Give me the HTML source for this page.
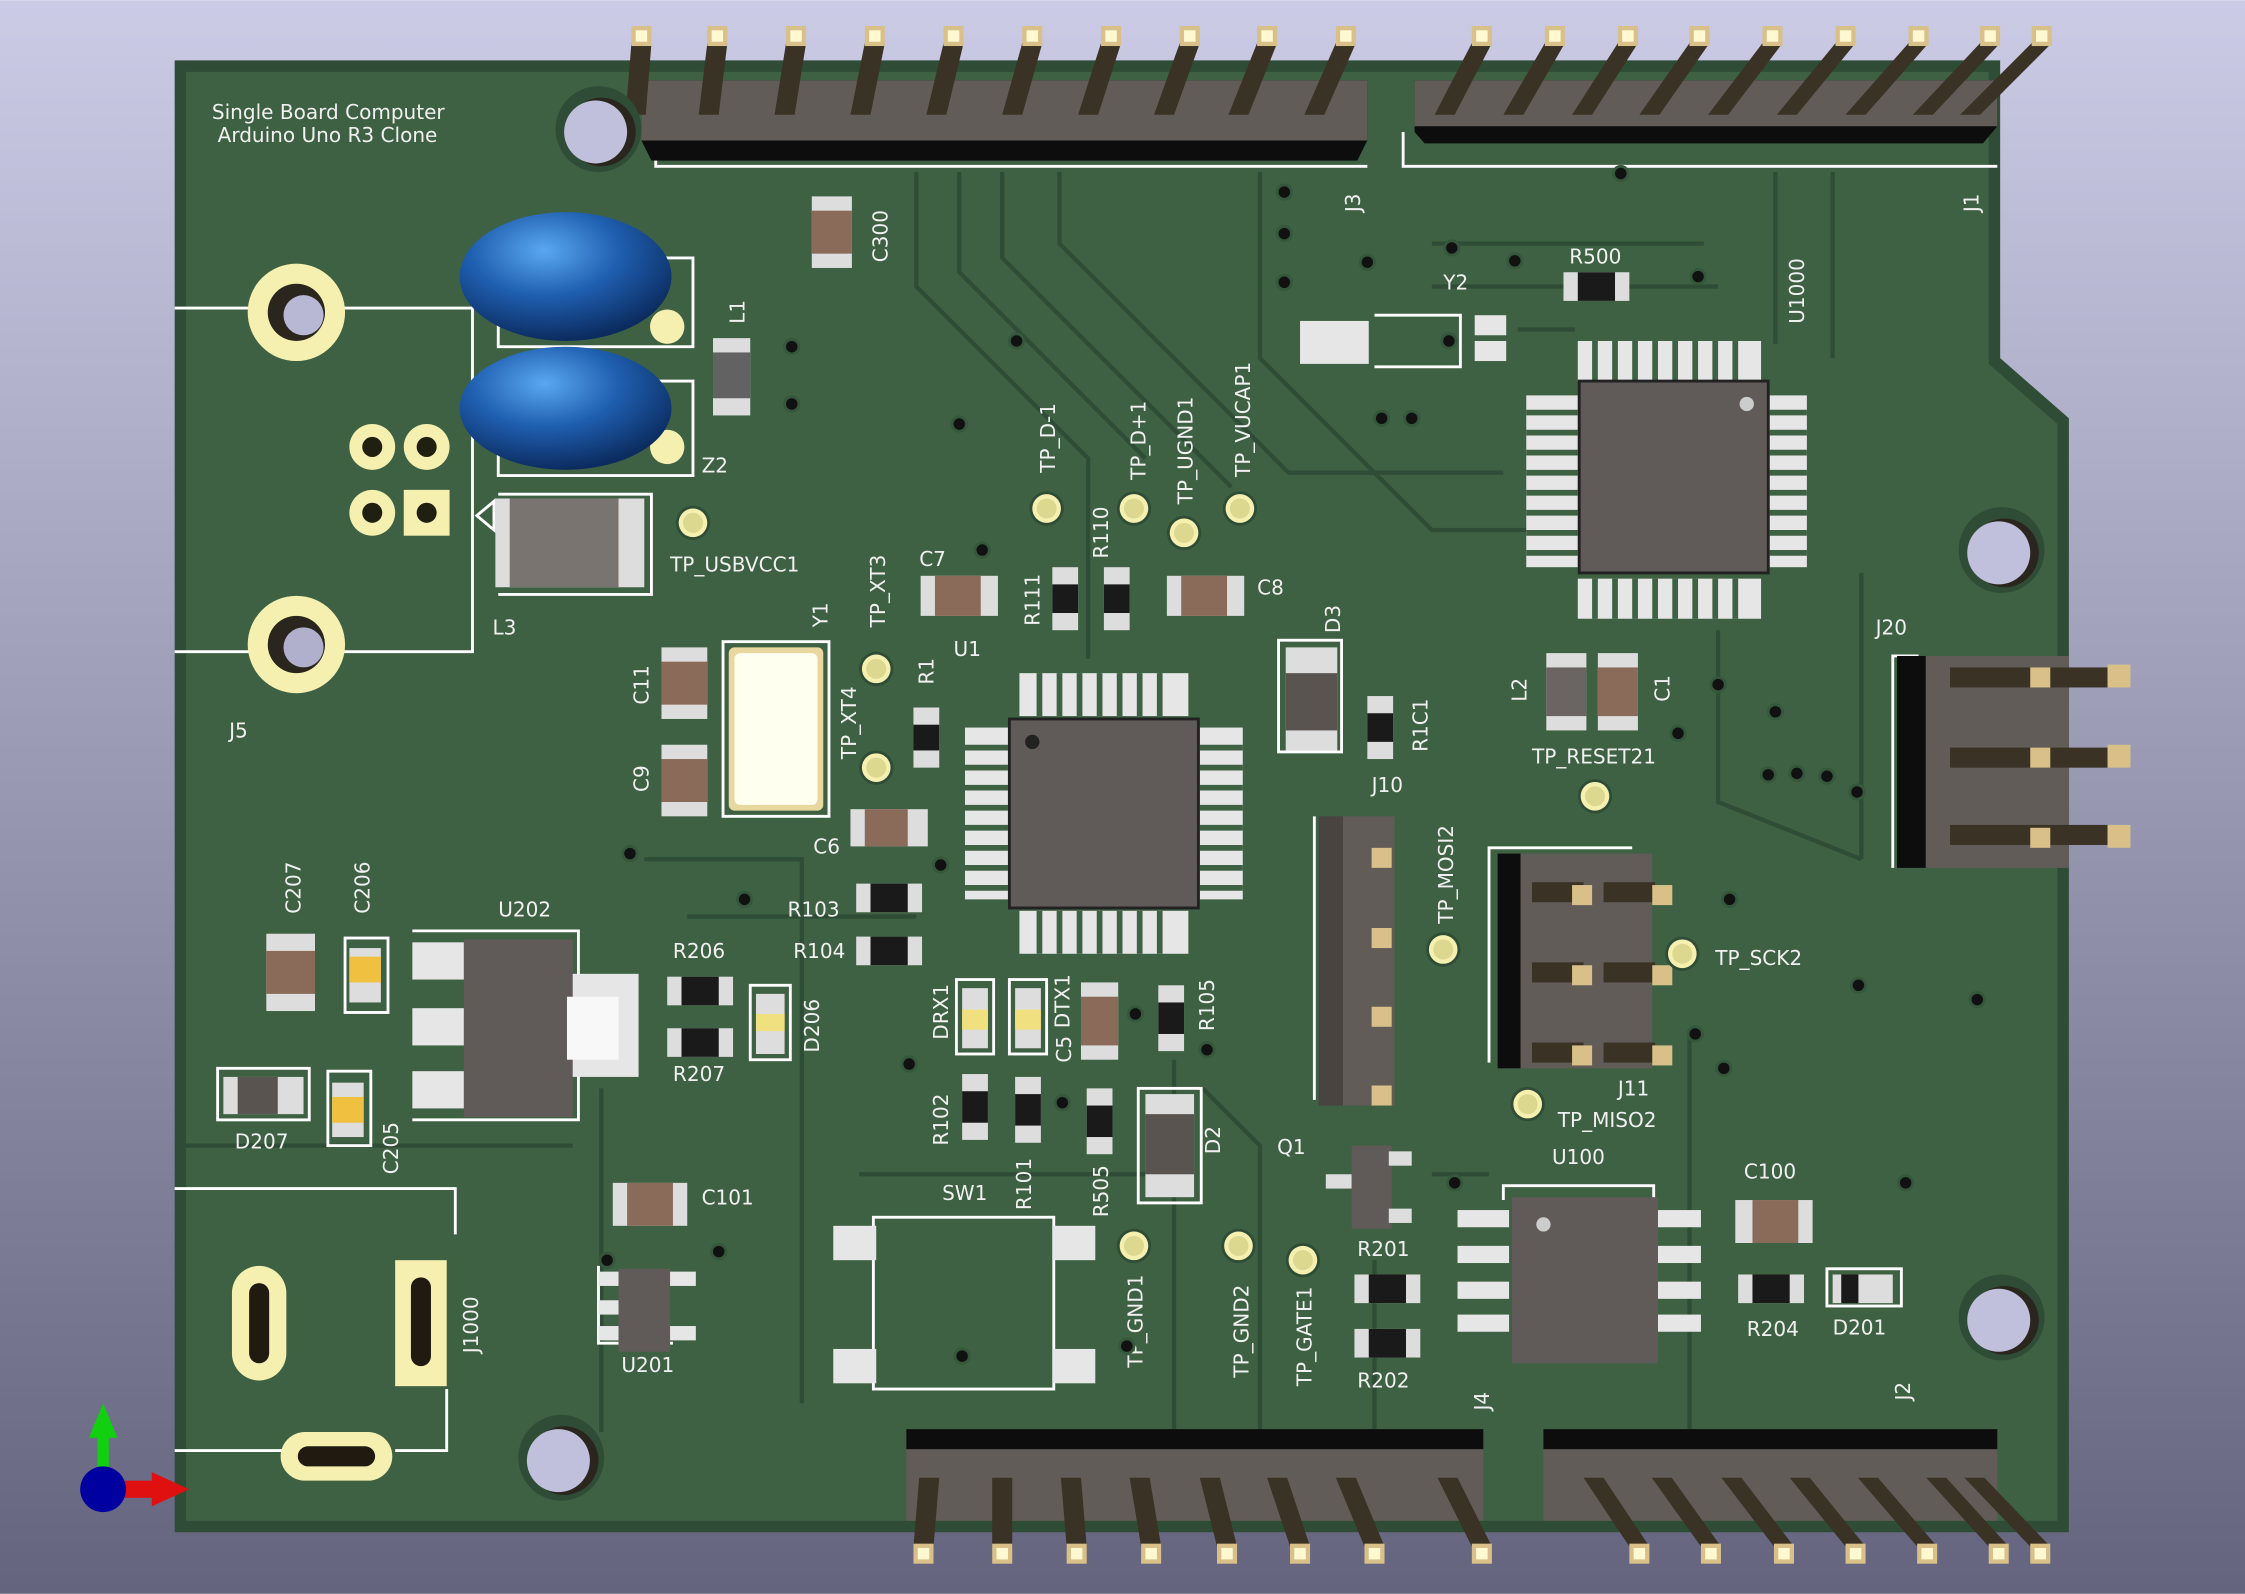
<!DOCTYPE html>
<html><head><meta charset="utf-8"><style>
html,body{margin:0;padding:0;width:2245px;height:1594px;overflow:hidden}
svg{display:block}
text{font-family:"DejaVu Sans","Liberation Sans",sans-serif;fill:#f0f0f0;font-size:14px}
</style></head><body>
<svg id="s" width="2245" height="1594" viewBox="0 0 1568 1113" xmlns="http://www.w3.org/2000/svg">
<defs>
<linearGradient id="bg" x1="0" y1="0" x2="0" y2="1"><stop offset="0" stop-color="#cbcbe6"/><stop offset="1" stop-color="#64647e"/></linearGradient>
<radialGradient id="cap" cx="0.4" cy="0.3" r="0.7"><stop offset="0" stop-color="#5aa8f0"/><stop offset="0.5" stop-color="#1f5fb0"/><stop offset="1" stop-color="#0c2c60"/></radialGradient>
<g id="tp"><circle r="12" fill="#2f4d36"/><circle r="10" fill="#f5f0b0"/><circle r="7" fill="#dcd890"/></g>
<g id="via"><circle r="6" fill="#35573b"/><circle r="4" fill="#111"/></g>
</defs>
<rect width="1568" height="1113" fill="url(#bg)"/>
<!-- board -->
<polygon points="122,42 1397,42 1397,250 1445,292 1445,1070 122,1070" fill="#2f4d36"/>
<polygon points="130,50 1389,50 1389,254 1437,296 1437,1062 130,1062" fill="#3e6143"/>
<!-- traces -->
<g stroke="#2f4d36" stroke-width="3" fill="none">
<path d="M640,120 L640,200 L760,320 L760,460"/><path d="M670,120 L670,190 L800,320"/><path d="M700,120 L700,180 L860,340"/>
<path d="M740,120 L740,170 L900,330 L1050,330"/><path d="M880,120 L880,250 L1000,370 L1070,370"/>
<path d="M1000,170 L1190,170"/><path d="M1000,200 L1200,200"/><path d="M1060,230 L1100,230"/>
<path d="M1240,120 L1240,240"/><path d="M1280,120 L1280,250"/>
<path d="M1300,400 L1300,600"/><path d="M1200,440 L1200,560 L1300,600"/>
<path d="M420,760 L420,1000"/><path d="M450,600 L560,600 L560,980"/><path d="M820,740 L820,1000"/><path d="M840,760 L880,800 L880,1000"/>
<path d="M600,820 L800,820"/><path d="M480,640 L640,640"/><path d="M130,800 L400,800"/>
<path d="M960,880 L960,1000"/><path d="M1000,820 L1040,820"/><path d="M1180,720 L1180,1000"/>
</g>
<text x="148" y="83">Single Board Computer</text>
<text x="152" y="99">Arduino Uno R3 Clone</text>
<!-- top headers -->
<polygon points="448,56 955,56 955,98 948,112 455,112 448,98" fill="#0d0d0d"/>
<rect x="448" y="56" width="507" height="42" fill="#625c58"/>
<polyline points="458,112 458,116 955,116" stroke="#fff" stroke-width="2" fill="none"/>
<polygon points="988,56 1395,56 1395,88 1385,100 995,100 988,92" fill="#0d0d0d"/>
<rect x="988" y="56" width="407" height="32" fill="#625c58"/>
<polyline points="980,92 980,116 1395,116" stroke="#fff" stroke-width="2" fill="none"/>
<g id="pins"></g>
<text x="950" y="148" transform="rotate(-90 950 148)" font-size="13">J3</text>
<text x="1382" y="148" transform="rotate(-90 1382 148)" font-size="13">J1</text>
<!-- bottom headers -->
<rect x="633" y="998" width="403" height="64" fill="#625c58"/><rect x="633" y="998" width="403" height="14" fill="#0d0d0d"/>
<rect x="1078" y="998" width="317" height="64" fill="#625c58"/><rect x="1078" y="998" width="317" height="14" fill="#0d0d0d"/>
<g id="pinsb"></g>
<text x="1040" y="985" transform="rotate(-90 1040 985)" font-size="13">J4</text>
<text x="1334" y="978" transform="rotate(-90 1334 978)" font-size="13">J2</text>
<!-- mounting holes -->
<g fill="#2f4d36"><circle cx="418" cy="90" r="30"/><circle cx="1398" cy="384" r="30"/><circle cx="1398" cy="920" r="30"/><circle cx="392" cy="1018" r="30"/></g>
<g fill="#2a261e"><circle cx="420" cy="92" r="24"/><circle cx="1400" cy="386" r="24"/><circle cx="1400" cy="922" r="24"/><circle cx="394" cy="1020" r="24"/></g>
<g fill="#c0c0dc"><circle cx="416" cy="92" r="22"/><circle cx="1396" cy="386" r="22"/><circle cx="1396" cy="922" r="22"/><circle cx="390" cy="1020" r="22"/></g>
<!-- J5 -->
<polyline points="122,215 330,215 330,455 122,455" stroke="#fff" stroke-width="2" fill="none"/>
<circle cx="207" cy="218" r="34" fill="#f5f0b0"/><circle cx="207" cy="218" r="20" fill="#2a261e"/><circle cx="212" cy="220" r="14" fill="#b8b8d4"/>
<circle cx="207" cy="450" r="34" fill="#f5f0b0"/><circle cx="207" cy="450" r="20" fill="#2a261e"/><circle cx="212" cy="452" r="14" fill="#b0b0cc"/>
<g fill="#f5f0b0"><circle cx="260" cy="312" r="16"/><circle cx="298" cy="312" r="16"/><circle cx="260" cy="358" r="16"/><rect x="282" y="342" width="32" height="32"/></g>
<g fill="#202010"><circle cx="260" cy="312" r="7"/><circle cx="298" cy="312" r="7"/><circle cx="260" cy="358" r="7"/><circle cx="298" cy="358" r="7"/></g>
<text x="160" y="515">J5</text>
<rect x="348" y="180" width="136" height="62" fill="none" stroke="#fff" stroke-width="2"/>
<rect x="348" y="266" width="136" height="66" fill="none" stroke="#fff" stroke-width="2"/>
<circle cx="466" cy="228" r="12" fill="#f5f0b0"/><circle cx="466" cy="312" r="12" fill="#f5f0b0"/>
<ellipse cx="395" cy="193" rx="74" ry="45" fill="url(#cap)"/>
<ellipse cx="395" cy="285" rx="74" ry="43" fill="url(#cap)"/>
<text x="490" y="330">Z2</text>
<rect x="498" y="236" width="26" height="54" fill="#ddd"/><rect x="498" y="246" width="26" height="32" fill="#626262"/>
<text x="520" y="226" transform="rotate(-90 520 226)">L1</text>
<rect x="567" y="137" width="28" height="50" fill="#ddd"/><rect x="567" y="147" width="28" height="30" fill="#8a6a58"/>
<text x="620" y="183" transform="rotate(-90 620 183)">C300</text>
<polyline points="348,345 455,345 455,415 348,415" stroke="#fff" stroke-width="2" fill="none"/>
<polygon points="333,360 345,350 345,370" fill="none" stroke="#fff" stroke-width="2"/>
<rect x="346" y="348" width="104" height="62" fill="#ddd"/><rect x="356" y="348" width="76" height="62" fill="#7a7470"/>
<text x="344" y="443">L3</text>
<use href="#tp" x="484" y="365"/><text x="468" y="399">TP_USBVCC1</text>
<rect x="462" y="452" width="32" height="50" fill="#ddd"/><rect x="462" y="462" width="32" height="30" fill="#8a6a58"/>
<rect x="462" y="520" width="32" height="50" fill="#ddd"/><rect x="462" y="530" width="32" height="30" fill="#8a6a58"/>
<text x="453" y="492" transform="rotate(-90 453 492)">C11</text>
<text x="453" y="553" transform="rotate(-90 453 553)">C9</text>
<rect x="505" y="448" width="74" height="122" fill="none" stroke="#fff" stroke-width="2"/>
<rect x="509" y="452" width="66" height="114" rx="4" fill="#e8d8a0"/><rect x="513" y="456" width="58" height="106" rx="4" fill="#fffff0"/>
<text x="578" y="438" transform="rotate(-90 578 438)">Y1</text>
<use href="#tp" x="612" y="467"/><use href="#tp" x="612" y="536"/>
<text x="618" y="438" transform="rotate(-90 618 438)">TP_XT3</text>
<text x="598" y="530" transform="rotate(-90 598 530)">TP_XT4</text>
<rect x="594" y="565" width="54" height="26" fill="#ddd"/><rect x="604" y="565" width="30" height="26" fill="#8a6a58"/>
<text x="568" y="596">C6</text>
<rect x="638" y="494" width="18" height="42" fill="#ddd"/><rect x="638" y="506" width="18" height="18" fill="#1a1a1a"/>
<text x="652" y="478" transform="rotate(-90 652 478)">R1</text>
<rect x="643" y="402" width="54" height="28" fill="#ddd"/><rect x="653" y="402" width="32" height="28" fill="#8a6a58"/>
<text x="642" y="395">C7</text><text x="666" y="458">U1</text>
<g fill="#e6e6e6">
<rect x="712" y="470" width="118" height="30"/><rect x="712" y="636" width="118" height="30"/>
<rect x="674" y="508" width="30" height="120"/><rect x="838" y="508" width="30" height="120"/>
</g>
<g stroke="#3e6143" stroke-width="4">
<path d="M726,470V500M740,470V500M754,470V500M768,470V500M782,470V500M796,470V500M810,470V500"/>
<path d="M726,636V666M740,636V666M754,636V666M768,636V666M782,636V666M796,636V666M810,636V666"/>
<path d="M674,522H704M674,536H704M674,550H704M674,564H704M674,578H704M674,592H704M674,606H704M674,620H704"/>
<path d="M838,522H868M838,536H868M838,550H868M838,564H868M838,578H868M838,592H868M838,606H868M838,620H868"/>
</g>
<rect x="705" y="502" width="132" height="132" fill="#605a58" stroke="#222" stroke-width="2"/><circle cx="721" cy="518" r="5" fill="#222"/>
<use href="#tp" x="731" y="355"/><use href="#tp" x="792" y="355"/><use href="#tp" x="827" y="372"/><use href="#tp" x="866" y="355"/>
<text x="737" y="330" transform="rotate(-90 737 330)">TP_D-1</text>
<text x="800" y="335" transform="rotate(-90 800 335)">TP_D+1</text>
<text x="833" y="352" transform="rotate(-90 833 352)">TP_UGND1</text>
<text x="873" y="333" transform="rotate(-90 873 333)">TP_VUCAP1</text>
<rect x="735" y="396" width="18" height="44" fill="#ddd"/><rect x="735" y="408" width="18" height="20" fill="#1a1a1a"/>
<rect x="771" y="396" width="18" height="44" fill="#ddd"/><rect x="771" y="408" width="18" height="20" fill="#1a1a1a"/>
<text x="726" y="437" transform="rotate(-90 726 437)">R111</text>
<text x="774" y="390" transform="rotate(-90 774 390)">R110</text>
<rect x="815" y="402" width="54" height="28" fill="#ddd"/><rect x="825" y="402" width="32" height="28" fill="#8a6a58"/>
<text x="878" y="415">C8</text>
<rect x="893" y="447" width="44" height="78" fill="none" stroke="#fff" stroke-width="2"/>
<rect x="898" y="452" width="36" height="72" fill="#ddd"/><rect x="898" y="470" width="36" height="40" fill="#5a5450"/>
<text x="936" y="442" transform="rotate(-90 936 442)">D3</text>
<rect x="955" y="486" width="18" height="44" fill="#ddd"/><rect x="955" y="498" width="18" height="20" fill="#1a1a1a"/>
<text x="997" y="525" transform="rotate(-90 997 525)">R1C1</text>
<rect x="908" y="224" width="48" height="30" fill="#e6e6e6"/>
<polyline points="960,220 1020,220 1020,256 960,256" stroke="#fff" stroke-width="2" fill="none"/>
<rect x="1030" y="220" width="22" height="14" fill="#e6e6e6"/><rect x="1030" y="238" width="22" height="14" fill="#e6e6e6"/>
<text x="1008" y="202">Y2</text>
<rect x="1092" y="190" width="46" height="20" fill="#ddd"/><rect x="1102" y="190" width="26" height="20" fill="#1a1a1a"/>
<text x="1096" y="184">R500</text>
<g fill="#e6e6e6"><rect x="1102" y="238" width="128" height="28"/><rect x="1102" y="404" width="128" height="28"/><rect x="1066" y="276" width="36" height="120"/><rect x="1236" y="276" width="26" height="120"/></g>
<g stroke="#3e6143" stroke-width="4">
<path d="M1114,238V266M1128,238V266M1142,238V266M1156,238V266M1170,238V266M1184,238V266M1198,238V266M1212,238V266"/>
<path d="M1114,404V432M1128,404V432M1142,404V432M1156,404V432M1170,404V432M1184,404V432M1198,404V432M1212,404V432"/>
<path d="M1066,288H1102M1066,302H1102M1066,316H1102M1066,330H1102M1066,344H1102M1066,358H1102M1066,372H1102M1066,386H1102"/>
<path d="M1236,288H1262M1236,302H1262M1236,316H1262M1236,330H1262M1236,344H1262M1236,358H1262M1236,372H1262M1236,386H1262"/>
</g>
<rect x="1103" y="266" width="132" height="134" fill="#605a58" stroke="#222" stroke-width="2"/><circle cx="1220" cy="282" r="5" fill="#ccc"/>
<text x="1260" y="226" transform="rotate(-90 1260 226)">U1000</text>
<rect x="1080" y="456" width="28" height="54" fill="#ddd"/><rect x="1080" y="466" width="28" height="34" fill="#6a6462"/>
<rect x="1116" y="456" width="28" height="54" fill="#ddd"/><rect x="1116" y="466" width="28" height="34" fill="#8a6a58"/>
<text x="1066" y="490" transform="rotate(-90 1066 490)">L2</text>
<text x="1166" y="490" transform="rotate(-90 1166 490)">C1</text>
<text x="1070" y="533">TP_RESET21</text><use href="#tp" x="1114" y="556"/>
<polyline points="1322,606 1322,458 1340,458" stroke="#fff" stroke-width="2" fill="none"/>
<rect x="1325" y="458" width="22" height="148" fill="#0d0d0d"/><rect x="1345" y="458" width="100" height="148" fill="#625c58"/>
<g fill="#3a3224"><rect x="1362" y="466" width="110" height="14"/><rect x="1362" y="522" width="110" height="14"/><rect x="1362" y="576" width="110" height="14"/></g>
<g fill="#d8c088"><rect x="1472" y="464" width="16" height="16"/><rect x="1472" y="520" width="16" height="16"/><rect x="1472" y="576" width="16" height="16"/><rect x="1418" y="466" width="14" height="14"/><rect x="1418" y="522" width="14" height="14"/><rect x="1418" y="578" width="14" height="14"/></g>
<text x="1310" y="443">J20</text>
<polyline points="918,570 918,768" stroke="#fff" stroke-width="2"/>
<rect x="921" y="570" width="52" height="202" fill="#4a4440"/><rect x="938" y="570" width="36" height="202" fill="#625c58"/>
<g fill="#d8c088"><rect x="958" y="592" width="14" height="14"/><rect x="958" y="648" width="14" height="14"/><rect x="958" y="703" width="14" height="14"/><rect x="958" y="758" width="14" height="14"/></g>
<text x="958" y="553">J10</text>
<use href="#tp" x="1008" y="663"/><text x="1015" y="645" transform="rotate(-90 1015 645)">TP_MOSI2</text>
<polyline points="1040,742 1040,592 1140,592" stroke="#fff" stroke-width="2" fill="none"/>
<rect x="1046" y="596" width="108" height="150" fill="#625c58"/><rect x="1046" y="596" width="16" height="150" fill="#0d0d0d"/>
<g fill="#3a3224"><rect x="1070" y="616" width="36" height="14"/><rect x="1120" y="616" width="36" height="14"/><rect x="1070" y="672" width="36" height="14"/><rect x="1120" y="672" width="36" height="14"/><rect x="1070" y="728" width="36" height="14"/><rect x="1120" y="728" width="36" height="14"/></g>
<g fill="#d8c088"><rect x="1098" y="618" width="14" height="14"/><rect x="1154" y="618" width="14" height="14"/><rect x="1098" y="674" width="14" height="14"/><rect x="1154" y="674" width="14" height="14"/><rect x="1098" y="730" width="14" height="14"/><rect x="1154" y="730" width="14" height="14"/></g>
<use href="#tp" x="1175" y="666"/><text x="1198" y="674">TP_SCK2</text>
<use href="#tp" x="1067" y="771"/><text x="1130" y="765">J11</text><text x="1088" y="787">TP_MISO2</text>
<text x="1084" y="813">U100</text>
<polyline points="1050,838 1050,828 1155,828 1155,838" stroke="#fff" stroke-width="2" fill="none"/>
<g fill="#e6e6e6"><rect x="1018" y="845" width="36" height="12"/><rect x="1018" y="870" width="36" height="12"/><rect x="1018" y="895" width="36" height="12"/><rect x="1018" y="918" width="36" height="12"/>
<rect x="1156" y="845" width="32" height="12"/><rect x="1156" y="870" width="32" height="12"/><rect x="1156" y="895" width="32" height="12"/><rect x="1156" y="918" width="32" height="12"/></g>
<rect x="1056" y="836" width="102" height="116" fill="#605a58"/><circle cx="1078" cy="855" r="5" fill="#ccc"/>
<text x="1218" y="823">C100</text>
<rect x="1212" y="838" width="54" height="30" fill="#ddd"/><rect x="1224" y="838" width="32" height="30" fill="#8a6a58"/>
<rect x="1214" y="890" width="46" height="20" fill="#ddd"/><rect x="1224" y="890" width="26" height="20" fill="#1a1a1a"/>
<text x="1220" y="933">R204</text>
<rect x="1276" y="886" width="52" height="26" fill="none" stroke="#fff" stroke-width="2"/>
<rect x="1280" y="890" width="42" height="20" fill="#ddd"/><rect x="1286" y="890" width="12" height="20" fill="#1a1a1a"/>
<text x="1280" y="932">D201</text>
<text x="892" y="806">Q1</text>
<rect x="944" y="800" width="28" height="58" fill="#605a58"/><rect x="926" y="820" width="18" height="10" fill="#ddd"/><rect x="970" y="804" width="16" height="10" fill="#ddd"/><rect x="970" y="844" width="16" height="10" fill="#ddd"/>
<text x="948" y="877">R201</text>
<rect x="946" y="890" width="46" height="20" fill="#ddd"/><rect x="956" y="890" width="26" height="20" fill="#1a1a1a"/>
<rect x="946" y="928" width="46" height="20" fill="#ddd"/><rect x="956" y="928" width="26" height="20" fill="#1a1a1a"/>
<text x="948" y="969">R202</text>
<use href="#tp" x="792" y="870"/><use href="#tp" x="865" y="870"/><use href="#tp" x="910" y="880"/>
<text x="798" y="955" transform="rotate(-90 798 955)">TP_GND1</text>
<text x="872" y="962" transform="rotate(-90 872 962)">TP_GND2</text>
<text x="916" y="968" transform="rotate(-90 916 968)">TP_GATE1</text>
<rect x="795" y="760" width="44" height="80" fill="none" stroke="#fff" stroke-width="2"/>
<rect x="800" y="764" width="34" height="72" fill="#ddd"/><rect x="800" y="778" width="34" height="42" fill="#5a5450"/>
<text x="852" y="806" transform="rotate(-90 852 806)">D2</text>
<rect x="809" y="688" width="18" height="46" fill="#ddd"/><rect x="809" y="700" width="18" height="22" fill="#1a1a1a"/>
<text x="848" y="720" transform="rotate(-90 848 720)">R105</text>
<rect x="755" y="686" width="26" height="54" fill="#ddd"/><rect x="755" y="696" width="26" height="34" fill="#8a6a58"/>
<text x="748" y="742" transform="rotate(-90 748 742)">C5</text>
<rect x="705" y="684" width="26" height="52" fill="none" stroke="#fff" stroke-width="2"/><rect x="709" y="690" width="18" height="42" fill="#ddd"/><rect x="709" y="705" width="18" height="14" fill="#f0e080"/>
<text x="747" y="718" transform="rotate(-90 747 718)">DTX1</text>
<rect x="668" y="684" width="26" height="52" fill="none" stroke="#fff" stroke-width="2"/><rect x="672" y="690" width="18" height="42" fill="#ddd"/><rect x="672" y="705" width="18" height="14" fill="#f0e080"/>
<text x="662" y="726" transform="rotate(-90 662 726)">DRX1</text>
<rect x="672" y="750" width="18" height="46" fill="#ddd"/><rect x="672" y="762" width="18" height="22" fill="#1a1a1a"/>
<rect x="709" y="752" width="18" height="46" fill="#ddd"/><rect x="709" y="764" width="18" height="22" fill="#1a1a1a"/>
<rect x="759" y="760" width="18" height="46" fill="#ddd"/><rect x="759" y="772" width="18" height="22" fill="#1a1a1a"/>
<text x="662" y="800" transform="rotate(-90 662 800)">R102</text>
<text x="720" y="845" transform="rotate(-90 720 845)">R101</text>
<text x="774" y="850" transform="rotate(-90 774 850)">R505</text>
<rect x="598" y="617" width="46" height="20" fill="#ddd"/><rect x="608" y="617" width="26" height="20" fill="#1a1a1a"/>
<rect x="598" y="654" width="46" height="20" fill="#ddd"/><rect x="608" y="654" width="26" height="20" fill="#1a1a1a"/>
<text x="550" y="640">R103</text><text x="554" y="669">R104</text>
<text x="658" y="838">SW1</text>
<rect x="610" y="850" width="126" height="120" fill="none" stroke="#fff" stroke-width="2"/>
<g fill="#e6e6e6"><rect x="582" y="856" width="30" height="24"/><rect x="735" y="856" width="30" height="24"/><rect x="582" y="942" width="30" height="24"/><rect x="735" y="942" width="30" height="24"/></g>
<text x="470" y="669">R206</text>
<rect x="466" y="682" width="46" height="20" fill="#ddd"/><rect x="476" y="682" width="26" height="20" fill="#1a1a1a"/>
<rect x="466" y="718" width="46" height="20" fill="#ddd"/><rect x="476" y="718" width="26" height="20" fill="#1a1a1a"/>
<text x="470" y="755">R207</text>
<rect x="524" y="688" width="28" height="52" fill="none" stroke="#fff" stroke-width="2"/><rect x="528" y="694" width="20" height="42" fill="#ddd"/><rect x="528" y="708" width="20" height="12" fill="#f0e080"/>
<text x="572" y="735" transform="rotate(-90 572 735)">D206</text>
<text x="348" y="640">U202</text>
<polyline points="288,650 404,650 404,782 288,782" stroke="#fff" stroke-width="2" fill="none"/>
<g fill="#e6e6e6"><rect x="288" y="658" width="36" height="26"/><rect x="288" y="704" width="36" height="26"/><rect x="288" y="748" width="36" height="26"/><rect x="396" y="680" width="50" height="72"/></g>
<rect x="324" y="656" width="76" height="124" fill="#605a58"/>
<rect x="396" y="696" width="36" height="44" fill="#f8f8f8"/>
<text x="210" y="638" transform="rotate(-90 210 638)">C207</text>
<text x="258" y="638" transform="rotate(-90 258 638)">C206</text>
<rect x="186" y="652" width="34" height="54" fill="#ddd"/><rect x="186" y="664" width="34" height="30" fill="#8a6a58"/>
<rect x="241" y="655" width="30" height="52" fill="none" stroke="#fff" stroke-width="2"/><rect x="244" y="662" width="22" height="38" fill="#ddd"/><rect x="244" y="668" width="22" height="18" fill="#f0c040"/>
<rect x="152" y="746" width="64" height="36" fill="none" stroke="#fff" stroke-width="2"/><rect x="156" y="752" width="56" height="26" fill="#ddd"/><rect x="166" y="752" width="28" height="26" fill="#5a5450"/>
<text x="164" y="802">D207</text>
<rect x="229" y="748" width="30" height="52" fill="none" stroke="#fff" stroke-width="2"/><rect x="232" y="756" width="22" height="38" fill="#ddd"/><rect x="232" y="766" width="22" height="18" fill="#f0c040"/>
<text x="278" y="820" transform="rotate(-90 278 820)">C205</text>
<rect x="428" y="826" width="52" height="30" fill="#ddd"/><rect x="438" y="826" width="32" height="30" fill="#8a6a58"/>
<text x="490" y="841">C101</text>
<polyline points="418,884 418,938 470,938" stroke="#fff" stroke-width="2" fill="none"/>
<g fill="#e6e6e6"><rect x="418" y="888" width="16" height="10"/><rect x="418" y="908" width="16" height="10"/><rect x="418" y="926" width="16" height="10"/><rect x="466" y="888" width="20" height="10"/><rect x="466" y="926" width="20" height="10"/></g>
<rect x="432" y="886" width="36" height="58" fill="#605a58"/>
<text x="434" y="958">U201</text>
<polyline points="122,830 318,830 318,862" stroke="#fff" stroke-width="2" fill="none"/>
<polyline points="122,1013 198,1013" stroke="#fff" stroke-width="2"/><polyline points="276,1013 312,1013 312,970" stroke="#fff" stroke-width="2" fill="none"/>
<rect x="162" y="884" width="38" height="80" rx="19" fill="#f5f0b0"/><rect x="174" y="896" width="14" height="56" rx="7" fill="#201a10"/>
<rect x="276" y="880" width="36" height="88" fill="#f5f0b0"/><rect x="287" y="892" width="14" height="62" rx="7" fill="#201a10"/>
<rect x="196" y="1000" width="78" height="34" rx="17" fill="#f5f0b0"/><rect x="208" y="1010" width="54" height="14" rx="7" fill="#201a10"/>
<text x="334" y="945" transform="rotate(-90 334 945)">J1000</text>
<g>
<use href="#via" x="553" y="242"/><use href="#via" x="553" y="282"/><use href="#via" x="710" y="238"/><use href="#via" x="670" y="296"/><use href="#via" x="686" y="384"/>
<use href="#via" x="897" y="134"/><use href="#via" x="897" y="163"/><use href="#via" x="897" y="197"/><use href="#via" x="955" y="183"/><use href="#via" x="1014" y="173"/><use href="#via" x="1058" y="182"/><use href="#via" x="1132" y="121"/><use href="#via" x="1186" y="193"/>
<use href="#via" x="965" y="292"/><use href="#via" x="986" y="292"/><use href="#via" x="1200" y="478"/><use href="#via" x="1240" y="497"/><use href="#via" x="1172" y="512"/><use href="#via" x="1235" y="541"/><use href="#via" x="1255" y="540"/><use href="#via" x="1276" y="542"/><use href="#via" x="1297" y="553"/>
<use href="#via" x="440" y="596"/><use href="#via" x="520" y="628"/><use href="#via" x="657" y="604"/><use href="#via" x="635" y="743"/><use href="#via" x="793" y="708"/><use href="#via" x="843" y="733"/><use href="#via" x="742" y="770"/>
<use href="#via" x="1208" y="628"/><use href="#via" x="1298" y="688"/><use href="#via" x="1381" y="698"/><use href="#via" x="1204" y="746"/><use href="#via" x="1184" y="722"/><use href="#via" x="1016" y="826"/><use href="#via" x="1331" y="826"/>
<use href="#via" x="502" y="874"/><use href="#via" x="672" y="947"/><use href="#via" x="787" y="940"/><use href="#via" x="424" y="880"/><use href="#via" x="1012" y="238"/>
</g>
<rect x="68" y="1000" width="8" height="28" fill="#10d010"/><polygon points="72,980 62,1004 82,1004" fill="#10d010"/>
<rect x="86" y="1034" width="22" height="12" fill="#e01010"/><polygon points="132,1040 106,1028 106,1052" fill="#e01010"/>
<circle cx="72" cy="1040" r="16" fill="#0000a0"/>
</svg>
<script>
(function(){
var NS="http://www.w3.org/2000/svg";
function el(p,t,a){var e=document.createElementNS(NS,t);for(var k in a)e.setAttribute(k,a[k]);p.appendChild(e);return e;}
var g=document.getElementById("pins"),gb=document.getElementById("pinsb");
function top(pads,d0,d1){pads.forEach(function(px,i){var dx=d0+(d1-d0)*i/(pads.length-1);var bx=px-dx;
el(g,"polygon",{points:(bx-7)+",80 "+(bx+7)+",80 "+(px+7)+",30 "+(px-7)+",30",fill:"#3a3224"});
el(g,"rect",{x:px-7,y:18,width:14,height:14,fill:"#d8c088"});el(g,"rect",{x:px-4,y:21,width:8,height:8,fill:"#fff8d0"});});}
function bot(pads,d0,d1){pads.forEach(function(px,i){var dx=d0+(d1-d0)*i/(pads.length-1);var bx=px-dx;
el(gb,"polygon",{points:(bx-7)+",1032 "+(bx+7)+",1032 "+(px+7)+",1080 "+(px-7)+",1080",fill:"#3a3224"});
el(gb,"rect",{x:px-7,y:1078,width:14,height:14,fill:"#d8c088"});el(gb,"rect",{x:px-4,y:1081,width:8,height:8,fill:"#fff8d0"});});}
top([448,501,556,611,666,721,776,831,885,940],4,22);
top([1035,1086,1137,1187,1238,1289,1340,1390,1426],26,50);
bot([645,700,752,804,857,908,960,1035],-4,24);
bot([1145,1195,1246,1296,1346,1396,1425],32,46);
})();
</script>
</body></html>
